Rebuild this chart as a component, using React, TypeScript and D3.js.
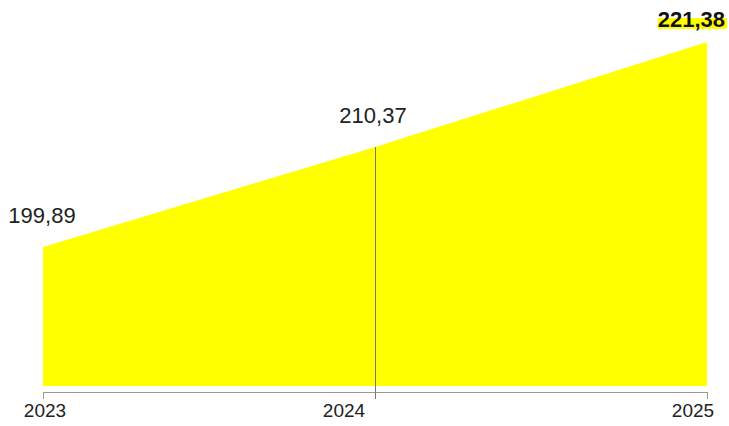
import React, { useEffect, useRef } from "react";
import * as d3 from "d3";

// chart data
const years = ["2023", "2024", "2025"];
const values = [199.89, 210.37, 221.38];
const yearLabelShift = [2, -31, -14]; // label offsets relative to tick, as in the original

const fmt = (v: number) => v.toFixed(2).replace(".", ",");

const App = () => {
  const svgRef = useRef<SVGSVGElement>(null);

  useEffect(() => {
    const width = 729;
    const height = 426;
    const margin = { top: 42, right: 22, bottom: 40, left: 43 };
    const font = "'Liberation Sans', Arial, Helvetica, sans-serif";

    const svg = d3.select(svgRef.current);
    svg.selectAll("*").remove();
    svg.attr("width", width).attr("height", height);

    const x = d3
      .scalePoint<string>()
      .domain(years)
      .range([margin.left, width - margin.right]);

    const y = d3
      .scaleLinear()
      .domain([185.3, d3.max(values) as number])
      .range([height - margin.bottom, margin.top]);

    const points = years.map((yr, i) => ({ yr, v: values[i] }));

    // area
    const area = d3
      .area<{ yr: string; v: number }>()
      .x((d) => x(d.yr) as number)
      .y0(y(185.3))
      .y1((d) => y(d.v));

    svg.append("path").datum(points).attr("d", area).attr("fill", "#ffff00");

    // x axis
    const axisY = height - margin.bottom + 6;
    svg
      .append("line")
      .attr("x1", x(years[0]) as number)
      .attr("x2", x(years[years.length - 1]) as number)
      .attr("y1", axisY + 0.5)
      .attr("y2", axisY + 0.5)
      .attr("stroke", "#999")
      .attr("stroke-width", 1);

    svg
      .selectAll(".tick")
      .data(years)
      .enter()
      .append("line")
      .attr("x1", (d) => (x(d) as number) + 0.5)
      .attr("x2", (d) => (x(d) as number) + 0.5)
      .attr("y1", axisY)
      .attr("y2", axisY + 7)
      .attr("stroke", "#999");

    svg
      .selectAll(".year")
      .data(years)
      .enter()
      .append("text")
      .attr("x", (d, i) => (x(d) as number) + yearLabelShift[i])
      .attr("y", 417)
      .attr("text-anchor", "middle")
      .attr("font-family", font)
      .attr("font-size", 19)
      .attr("fill", "#222")
      .text((d) => d);

    // vertical marker at middle year
    const mid = points[1];
    svg
      .append("line")
      .attr("x1", (x(mid.yr) as number) + 0.5)
      .attr("x2", (x(mid.yr) as number) + 0.5)
      .attr("y1", y(mid.v))
      .attr("y2", axisY + 7)
      .attr("stroke", "#777")
      .attr("stroke-width", 1);

    // value labels
    points.forEach((d, i) => {
      const last = i === points.length - 1;
      const px = x(d.yr) as number;
      const py = y(d.v);
      if (last) {
        const t = svg
          .append("text")
          .attr("x", px + 18)
          .attr("y", py - 15)
          .attr("text-anchor", "end")
          .attr("font-family", font)
          .attr("font-size", 22)
          .attr("font-weight", "bold")
          .attr("fill", "#111")
          .text(fmt(d.v));
        const bb = (t.node() as SVGTextElement).getBBox();
        svg
          .insert("rect", "text:last-of-type")
          .attr("x", bb.x)
          .attr("y", py - 24)
          .attr("width", bb.width + 2)
          .attr("height", 11)
          .attr("fill", "#ffff00");
        t.raise();
      } else {
        svg
          .append("text")
          .attr("x", px - (i === 1 ? 2 : 1))
          .attr("y", py - 24)
          .attr("text-anchor", "middle")
          .attr("font-family", font)
          .attr("font-size", 22)
          .attr("fill", "#222")
          .text(fmt(d.v));
      }
    });
  }, []);

  return <svg ref={svgRef} style={{ position: "absolute", left: 0, top: 0 }} />;
};

export default App;
